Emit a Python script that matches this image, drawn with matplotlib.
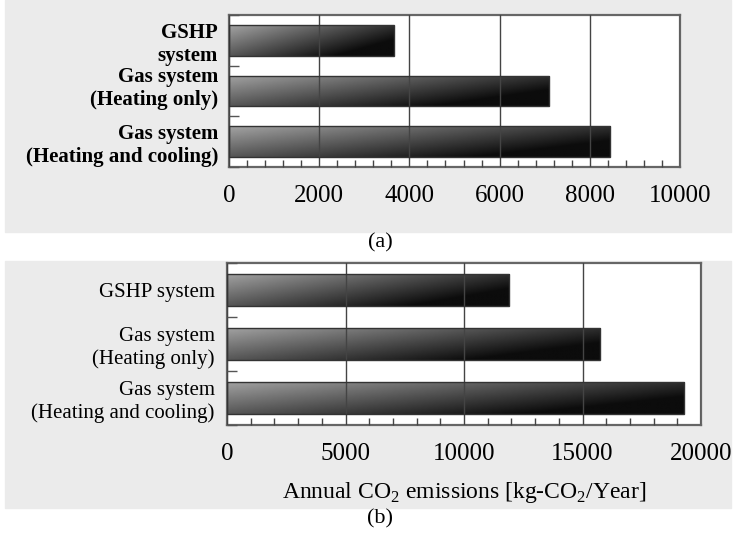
import numpy as np
import matplotlib
matplotlib.use("Agg")
import matplotlib.pyplot as plt
from matplotlib.patches import Rectangle
from matplotlib.transforms import ScaledTranslation

# data
labels_a = ["GSHP\nsystem", "Gas system\n(Heating only)", "Gas system\n(Heating and cooling)"]
values_a = [3650, 7100, 8450]
labels_b = ["GSHP system", "Gas system\n(Heating only)", "Gas system\n(Heating and cooling)"]
values_b = [11900, 15750, 19300]

plt.rcParams['font.family'] = ['Liberation Serif', 'DejaVu Serif']
plt.rcParams['mathtext.fontset'] = 'custom'
plt.rcParams['mathtext.rm'] = 'Liberation Serif'

BG = "#ebebeb"


def gradient_bars(ax, bars):
    """Fill each bar with a light-to-dark diagonal grey gradient."""
    u = np.linspace(0, 1, 200)[None, :]
    w = np.linspace(0, 1, 40)[:, None]
    grad = np.clip(0.64 - 0.45 * u - 0.30 * w, 0.05, 1)
    for p in bars:
        x0, y0 = p.get_x(), p.get_y()
        x1, y1 = x0 + p.get_width(), y0 + p.get_height()
        im = ax.imshow(grad, cmap="gray", vmin=0, vmax=1, aspect="auto",
                       extent=[x0, x1, y1, y0], zorder=2, interpolation="bilinear")
        im.set_clip_path(p)


def panel(ax, labels, values, xmax, major, minor, bold, pad):
    ax.set_facecolor("white")
    y = np.arange(len(values))
    bars = ax.barh(y, values, height=0.6, color="none", edgecolor="#333333",
                   linewidth=1.0, zorder=3)
    gradient_bars(ax, bars)
    ax.set_xlim(0, xmax)
    ax.set_ylim(len(values) - 0.5, -0.5)
    ax.set_xticks(np.arange(0, xmax + 1, major))
    ax.set_xticks(np.arange(0, xmax + 1, minor), minor=True)
    ax.grid(axis="x", which="major", color="#444444", linewidth=1.0, zorder=1)
    ax.set_yticks(y)
    ax.set_yticklabels(labels, fontweight="bold" if bold else "normal",
                       fontsize=15, linespacing=1.2)
    ax.set_yticks(np.arange(-0.5, len(values), 1.0), minor=True)
    ax.tick_params(axis="y", which="major", length=0, pad=pad)
    ax.tick_params(axis="y", which="minor", direction="in", length=7,
                   width=1.0, color="#555555")
    ax.tick_params(axis="x", which="major", length=0, pad=13, labelsize=18)
    ax.tick_params(axis="x", which="minor", direction="in", length=5,
                   width=1.0, color="#444444")
    for s in ax.spines.values():
        s.set_color("#666666")
        s.set_linewidth(1.6)
    ax.set_axisbelow(False)


fig = plt.figure(figsize=(7.35, 5.34), dpi=100)
fig.patch.set_facecolor("white")

# grey panels behind the two charts
fig.patches.append(Rectangle((5 / 735, 1 - 232 / 534), 726 / 735, 232 / 534,
                             transform=fig.transFigure, color=BG, zorder=-5))
fig.patches.append(Rectangle((5 / 735, 1 - 508 / 534), 726 / 735, 247 / 534,
                             transform=fig.transFigure, color=BG, zorder=-5))

ax_a = fig.add_axes([229 / 735, 1 - 167 / 534, 451 / 735, 152 / 534])
ax_b = fig.add_axes([227 / 735, 1 - 425 / 534, 474 / 735, 162 / 534])

panel(ax_a, labels_a, values_a, 10000, 2000, 400, True, 8)
panel(ax_b, labels_b, values_b, 20000, 5000, 1000, False, 9)

# in the original the middle label of (a) sits a little above its bar
lbl = ax_a.get_yticklabels()[1]
lbl.set_transform(lbl.get_transform() + ScaledTranslation(0, 5 / 72, fig.dpi_scale_trans))

ax_b.set_xlabel(r"Annual CO$_2$ emissions [kg-CO$_2$/Year]", fontsize=17, labelpad=11)

fig.text(380 / 735, 1 - 243 / 534, "(a)", ha="center", va="center", fontsize=16)
fig.text(380 / 735, 1 - 519 / 534, "(b)", ha="center", va="center", fontsize=16)

fig.savefig("out.png", dpi=100)
